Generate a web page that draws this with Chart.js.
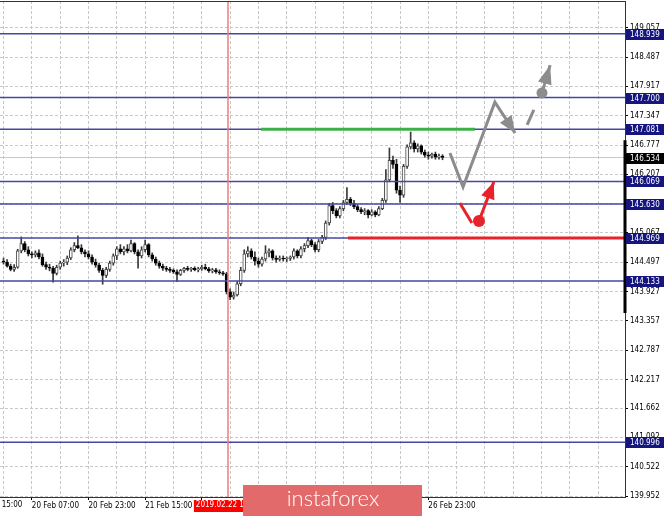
<!DOCTYPE html>
<html>
<head>
<meta charset="utf-8">
<script src="https://cdn.jsdelivr.net/npm/chart.js@4.4.1/dist/chart.umd.min.js"></script>
<style>
  html, body { margin: 0; padding: 0; background: #fff; }
  canvas { display: block; }
</style>
</head>
<body>
<canvas id="chart" width="665" height="516"></canvas>
<script>
// H1 candles, index 0 = first bar on the left
const opens = [
  144.52, 144.50, 144.42, 144.36, 144.40, 144.72, 144.86, 144.74, 144.66, 144.64,
  144.68, 144.60, 144.45, 144.40, 144.38, 144.28, 144.40, 144.48, 144.50, 144.58,
  144.74, 144.82, 144.78, 144.70, 144.66, 144.60, 144.50, 144.44, 144.34, 144.24,
  144.36, 144.48, 144.62, 144.76, 144.70, 144.76, 144.72, 144.86, 144.70, 144.62,
  144.74, 144.84, 144.64, 144.56, 144.48, 144.42, 144.38, 144.36, 144.34, 144.31,
  144.26, 144.34, 144.38, 144.36, 144.38, 144.35, 144.37, 144.40, 144.37, 144.33,
  144.35, 144.31, 144.29, 144.27, 143.92, 143.82, 143.86, 144.08, 144.34, 144.66,
  144.72, 144.60, 144.52, 144.46, 144.56, 144.68, 144.72, 144.58, 144.55, 144.58,
  144.56, 144.57, 144.60, 144.72, 144.62, 144.76, 144.82, 144.92, 144.84, 144.74,
  144.90, 144.98, 145.26, 145.60, 145.50, 145.40, 145.54, 145.66, 145.72, 145.64,
  145.58, 145.52, 145.48, 145.50, 145.42, 145.48, 145.42, 145.54, 145.70, 146.10,
  146.48, 146.40, 145.90, 145.80, 146.36, 146.74, 146.82, 146.70, 146.76, 146.64,
  146.58, 146.56, 146.60, 146.54, 146.56
];
const highs = [
  144.58, 144.55, 144.46, 144.45, 144.75, 144.99, 144.90, 144.80, 144.70, 144.72,
  144.74, 144.66, 144.50, 144.46, 144.42, 144.44, 144.52, 144.55, 144.62, 144.78,
  144.88, 145.01, 144.84, 144.74, 144.72, 144.64, 144.56, 144.48, 144.38, 144.40,
  144.52, 144.66, 144.80, 144.84, 144.80, 144.84, 144.93, 144.88, 144.74, 144.80,
  144.93, 144.86, 144.68, 144.60, 144.52, 144.46, 144.42, 144.40, 144.37, 144.35,
  144.36, 144.40, 144.42, 144.40, 144.41, 144.40, 144.44, 144.46, 144.40, 144.38,
  144.38, 144.35, 144.32, 144.30, 143.98, 143.92, 144.12, 144.40, 144.74, 144.80,
  144.76, 144.70, 144.58, 144.60, 144.82, 144.76, 144.74, 144.62, 144.62, 144.62,
  144.60, 144.62, 144.76, 144.74, 144.80, 144.86, 144.98, 144.95, 144.88, 144.94,
  145.02, 145.30, 145.64, 145.66, 145.54, 145.58, 145.70, 145.95, 145.76, 145.70,
  145.62, 145.56, 145.54, 145.52, 145.52, 145.50, 145.58, 145.74, 146.30, 146.72,
  146.56, 146.50, 145.98, 146.40, 146.78, 147.03, 146.86, 146.80, 146.78, 146.68,
  146.64, 146.62, 146.64, 146.60, 146.59
];
const lows = [
  144.46, 144.40, 144.33, 144.32, 144.38, 144.68, 144.70, 144.62, 144.58, 144.60,
  144.56, 144.42, 144.36, 144.33, 144.11, 144.25, 144.36, 144.42, 144.45, 144.55,
  144.70, 144.76, 144.66, 144.60, 144.56, 144.46, 144.40, 144.30, 144.07, 144.20,
  144.32, 144.44, 144.55, 144.66, 144.64, 144.68, 144.70, 144.66, 144.38, 144.58,
  144.70, 144.60, 144.52, 144.44, 144.38, 144.34, 144.32, 144.30, 144.28, 144.12,
  144.24, 144.30, 144.33, 144.32, 144.33, 144.31, 144.34, 144.35, 144.30, 144.29,
  144.28, 144.26, 144.24, 143.88, 143.77, 143.78, 143.84, 144.04, 144.30, 144.60,
  144.56, 144.44, 144.40, 144.42, 144.52, 144.60, 144.54, 144.50, 144.52, 144.52,
  144.51, 144.53, 144.56, 144.58, 144.58, 144.70, 144.78, 144.80, 144.70, 144.70,
  144.86, 144.94, 145.22, 145.44, 145.36, 145.36, 145.50, 145.62, 145.60, 145.54,
  145.48, 145.44, 145.42, 145.36, 145.40, 145.38, 145.40, 145.52, 145.66, 146.06,
  146.32, 145.84, 145.66, 145.76, 146.32, 146.70, 146.64, 146.64, 146.60, 146.54,
  146.50, 146.52, 146.50, 146.50, 146.49
];
const closes = [
  144.50, 144.42, 144.36, 144.40, 144.72, 144.86, 144.74, 144.66, 144.64, 144.68,
  144.60, 144.45, 144.40, 144.38, 144.28, 144.40, 144.48, 144.50, 144.58, 144.74,
  144.82, 144.78, 144.70, 144.66, 144.60, 144.50, 144.44, 144.34, 144.24, 144.36,
  144.48, 144.62, 144.76, 144.70, 144.76, 144.72, 144.86, 144.70, 144.62, 144.74,
  144.84, 144.64, 144.56, 144.48, 144.42, 144.38, 144.36, 144.34, 144.31, 144.26,
  144.34, 144.38, 144.36, 144.38, 144.35, 144.37, 144.40, 144.37, 144.33, 144.35,
  144.31, 144.29, 144.27, 143.92, 143.82, 143.86, 144.08, 144.34, 144.66, 144.72,
  144.60, 144.52, 144.46, 144.56, 144.68, 144.72, 144.58, 144.55, 144.58, 144.56,
  144.57, 144.60, 144.72, 144.62, 144.76, 144.82, 144.92, 144.84, 144.74, 144.90,
  144.98, 145.26, 145.60, 145.50, 145.40, 145.54, 145.66, 145.72, 145.64, 145.58,
  145.52, 145.48, 145.50, 145.42, 145.48, 145.42, 145.54, 145.70, 146.10, 146.48,
  146.40, 145.90, 145.80, 146.36, 146.74, 146.82, 146.70, 146.76, 146.64, 146.58,
  146.56, 146.60, 146.54, 146.56, 146.534
];

// price axis labels
const yTickLabels = ['139.952', '140.522', '141.092', '141.662', '142.217', '142.787', '143.357',
  '143.927', '144.497', '145.067', '145.637', '146.207', '146.777', '147.347', '147.917', '148.487', '149.057'];

// time axis labels (bar index -> text)
const xLabelIdx = [-8, 8, 24, 40, 56, 72, 88, 104, 120];
const xLabels = ['19 Feb 15:00', '20 Feb 07:00', '20 Feb 23:00', '21 Feb 15:00', '22 Feb 07:00',
  '22 Feb 23:00', '25 Feb 15:00', '26 Feb 07:00', '26 Feb 23:00'];

// horizontal levels
const levels = [148.939, 147.700, 147.081, 146.069, 145.630, 144.969, 144.133, 140.996];
const lastPrice = 146.534;
const markerIdx = 63.4;
const markerLabel = '2019.02.22 14:00';
const axisBar = [146.87, 143.51];

// drawn objects: [bar index, price]
const greenSeg = [[72.7, 147.081], [133.2, 147.081]];
const redSeg = [[97.3, 144.969], [176, 144.969]];
const grayPath = [[126.1, 146.62], [129.8, 145.96], [138.8, 147.61], [144.5, 147.01]];
const grayDash = [[147.9, 147.17], [149.8, 147.46]];
const grayUp = [[152.1, 147.79], [154.4, 148.33]];
const redDown = [[128.9, 145.65], [132.3, 145.26]];
const redUp = [[134.3, 145.30], [138.5, 146.06]];

const X_MIN = -1, X_MAX = 175.55;
const Y_MIN = 139.933, Y_MAX = 149.577;
const FAMILY = '"DejaVu Sans Condensed", "DejaVu Sans", sans-serif';
const FONT = { family: FAMILY, size: 8 };
const NAVY_LINE = '#4646a6';
const GRAY = '#8c8c8c';
const RED = '#e8222a';

const pts = arr => arr.map(p => ({ x: p[0], y: p[1] }));

function lineSet(label, data, color, width, order, extra) {
  return Object.assign({
    type: 'line', label: label, data: data, borderColor: color, backgroundColor: color,
    borderWidth: width, pointRadius: 0, fill: false, tension: 0, order: order,
    borderCapStyle: 'butt'
  }, extra || {});
}

const datasets = [];
datasets.push({
  type: 'bar', label: 'wicks', order: 6, grouped: false, barThickness: 1,
  data: opens.map((o, i) => ({ x: i, y: [lows[i], highs[i]] })),
  backgroundColor: '#3a3a3a'
});
datasets.push({
  type: 'bar', label: 'bodies', order: 5, grouped: false, barThickness: 3, minBarLength: 1,
  data: opens.map((o, i) => ({ x: i, y: [o, closes[i]] })),
  backgroundColor: ctx => closes[ctx.dataIndex] >= opens[ctx.dataIndex] ? '#ffffff' : '#000000',
  borderColor: ctx => closes[ctx.dataIndex] >= opens[ctx.dataIndex] ? '#4a4a4a' : '#000000',
  borderWidth: 1, borderSkipped: false
});
datasets.push(lineSet('bid', pts([[X_MIN, lastPrice], [X_MAX, lastPrice]]), '#c8c8c8', 1, 7));
levels.forEach(v => datasets.push(lineSet('lvl ' + v, pts([[X_MIN, v], [X_MAX, v]]), NAVY_LINE, 1.5, 4)));
datasets.push(lineSet('marker', pts([[markerIdx, Y_MIN], [markerIdx, Y_MAX]]), '#f07c7c', 1.5, 3));
datasets.push(lineSet('green', pts(greenSeg), '#3cb14a', 3, 2));
datasets.push(lineSet('red', pts(redSeg), RED, 3, 2));
datasets.push(lineSet('grayPath', pts(grayPath), GRAY, 3, 1, { borderJoinStyle: 'miter' }));
datasets.push(lineSet('grayDash', pts(grayDash), GRAY, 3, 1));
datasets.push(lineSet('grayUp', pts(grayUp), GRAY, 3, 1,
  { pointRadius: c => c.dataIndex === 0 ? 5.5 : 0, pointBorderWidth: 0, pointBackgroundColor: GRAY }));
datasets.push(lineSet('redDown', pts(redDown), RED, 3, 1));
datasets.push(lineSet('redUp', pts(redUp), RED, 3, 1,
  { pointRadius: c => c.dataIndex === 0 ? 6 : 0, pointBorderWidth: 0, pointBackgroundColor: RED }));

const arrowHeads = [
  { label: 'grayPath', color: GRAY, len: 17, half: 7 },
  { label: 'grayUp', color: GRAY, len: 19, half: 7 },
  { label: 'redUp', color: RED, len: 17, half: 7 }
];

const overlay = {
  id: 'overlay',
  afterDatasetsDraw(chart) {
    const ctx = chart.ctx;
    arrowHeads.forEach(a => {
      const idx = chart.data.datasets.findIndex(d => d.label === a.label);
      const els = chart.getDatasetMeta(idx).data;
      const p1 = els[els.length - 2], p2 = els[els.length - 1];
      const ang = Math.atan2(p2.y - p1.y, p2.x - p1.x);
      ctx.save();
      ctx.fillStyle = a.color;
      ctx.translate(p2.x, p2.y);
      ctx.rotate(ang);
      ctx.beginPath();
      ctx.moveTo(0, 0);
      ctx.lineTo(-a.len, -a.half);
      ctx.lineTo(-a.len, a.half);
      ctx.closePath();
      ctx.fill();
      ctx.restore();
    });
  },
  afterDraw(chart) {
    const ctx = chart.ctx;
    const area = chart.chartArea;
    const ys = chart.scales.y, xs = chart.scales.x;
    ctx.save();
    // top frame line
    ctx.strokeStyle = '#333';
    ctx.lineWidth = 1;
    ctx.beginPath();
    ctx.moveTo(area.left, area.top + 0.5);
    ctx.lineTo(area.right, area.top + 0.5);
    ctx.stroke();

    // thick bar on price axis
    ctx.fillStyle = '#000';
    const b0 = ys.getPixelForValue(axisBar[0]), b1 = ys.getPixelForValue(axisBar[1]);
    ctx.fillRect(area.right - 1.5, b0, 3, b1 - b0);

    // first time label, clipped by the left edge
    ctx.font = FONT.size + 'px ' + FAMILY;
    ctx.fillStyle = '#000';
    ctx.textAlign = 'left';
    ctx.textBaseline = 'top';
    ctx.fillText(xLabels[0], xs.getPixelForValue(xLabelIdx[0]), area.bottom + 4);

    // price boxes
    ctx.textBaseline = 'middle';
    const box = (v, bg) => {
      const py = Math.round(ys.getPixelForValue(v));
      ctx.fillStyle = bg;
      ctx.fillRect(area.right + 1, py - 5, 38, 11);
      ctx.fillStyle = '#fff';
      ctx.fillText(v.toFixed(3), area.right + 5, py + 0.5);
    };
    levels.forEach(v => box(v, '#15157f'));
    box(lastPrice, '#000');

    // vertical line date label
    const mx = xs.getPixelForValue(markerIdx);
    const tw = ctx.measureText(markerLabel).width + 4;
    ctx.fillStyle = '#ff0000';
    ctx.fillRect(mx - tw / 2, area.bottom + 3, tw, 12);
    ctx.fillStyle = '#fff';
    ctx.textBaseline = 'top';
    ctx.fillText(markerLabel, mx - tw / 2 + 2, area.bottom + 4);

    // watermark
    ctx.fillStyle = '#e36a6a';
    ctx.fillRect(243, 485, 179, 31);
    ctx.fillStyle = '#fff';
    ctx.font = '300 22px Lato';
    ctx.textAlign = 'center';
    ctx.textBaseline = 'middle';
    ctx.fillText('instaforex', 333, 499);
    ctx.restore();
  }
};

let gridIdx = [];
for (let v = 0; v <= 168; v += 8) gridIdx.push(v);

new Chart(document.getElementById('chart'), {
  type: 'bar',
  data: { datasets: datasets },
  options: {
    responsive: false,
    animation: false,
    events: [],
    layout: { autoPadding: false, padding: { top: 1, left: 0, right: 0, bottom: 0 } },
    plugins: { legend: { display: false }, tooltip: { enabled: false } },
    scales: {
      x: {
        type: 'linear', min: X_MIN, max: X_MAX, offset: false,
        afterBuildTicks: s => { s.ticks = gridIdx.map(v => ({ value: v })); },
        afterFit: s => { s.height = 19; s.paddingLeft = 0; s.paddingRight = 0; },
        grid: {
          offset: false, color: '#c8c8c8', lineWidth: 1, tickLength: 3, tickBorderDash: [],
          tickColor: c => (c.tick && xLabelIdx.includes(c.tick.value)) ? '#000' : 'rgba(0,0,0,0)'
        },
        border: { display: true, color: '#333', width: 1, dash: [3, 2] },
        ticks: {
          autoSkip: false, maxRotation: 0, align: 'start', padding: 1, color: '#000', font: FONT,
          callback: v => { const k = xLabelIdx.indexOf(v); return k >= 0 ? xLabels[k] : ''; }
        }
      },
      y: {
        type: 'linear', position: 'right', min: Y_MIN, max: Y_MAX,
        afterBuildTicks: s => { s.ticks = yTickLabels.map(t => ({ value: parseFloat(t) })); },
        afterFit: s => { s.width = 40; s.paddingTop = 0; s.paddingBottom = 0; },
        grid: { color: '#c8c8c8', lineWidth: 1, tickLength: 3, tickColor: '#000', tickBorderDash: [] },
        border: { display: true, color: '#333', width: 1, dash: [3, 2] },
        ticks: { padding: 2, color: '#000', font: FONT, callback: v => v.toFixed(3) }
      }
    }
  },
  plugins: [overlay]
});
</script>
</body>
</html>
